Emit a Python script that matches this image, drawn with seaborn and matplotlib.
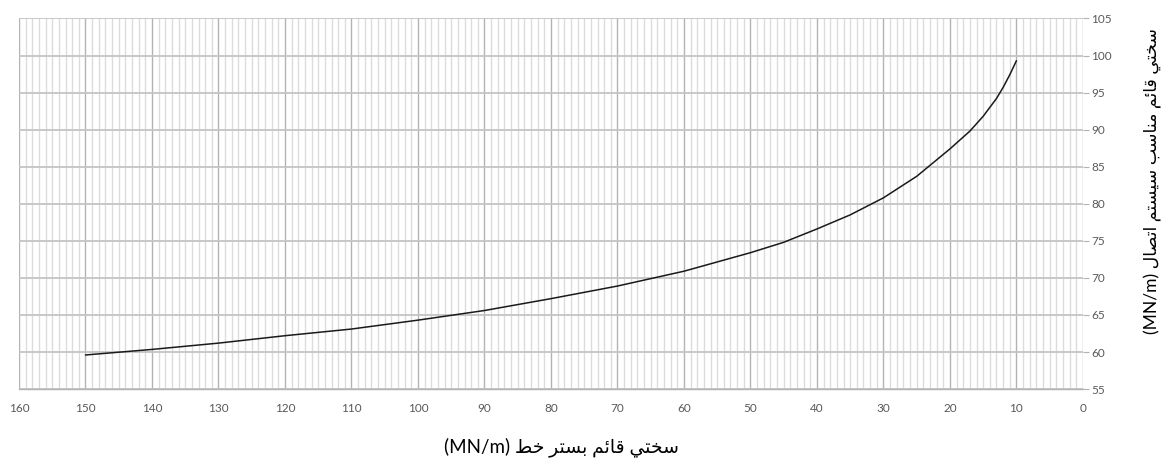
import matplotlib
matplotlib.use("Agg")
import matplotlib.pyplot as plt
import seaborn as sns
import pandas as pd
from matplotlib.ticker import MultipleLocator

# Track-bed vertical stiffness (MN/m) and the matching fastening-system stiffness (MN/m)
bed_stiffness = [150, 140, 130, 120, 110, 100, 90, 80, 70, 60, 50, 45, 40, 35,
                 30, 25, 20, 17, 15, 13, 12, 11, 10]
fastening_stiffness = [59.6, 60.35, 61.2, 62.2, 63.1, 64.3, 65.6, 67.2, 68.9, 70.9,
                       73.4, 74.8, 76.6, 78.5, 80.8, 83.7, 87.4, 89.8, 91.8, 94.2,
                       95.7, 97.4, 99.3]

x_ticks = list(range(0, 161, 10))
y_ticks = list(range(55, 106, 5))

x_title = "سختي قائم بستر خط"
y_title = "سختي قائم مناسب سيستم اتصال"
unit = "(MN/m)"

# Contextual Arabic forms: isolated, final, initial, medial (None = right-joining only)
FORMS = {
    "ا": ("\uFE8D", "\uFE8E", None, None),
    "ب": ("\uFE8F", "\uFE90", "\uFE91", "\uFE92"),
    "ت": ("\uFE95", "\uFE96", "\uFE97", "\uFE98"),
    "خ": ("\uFEA5", "\uFEA6", "\uFEA7", "\uFEA8"),
    "ر": ("\uFEAD", "\uFEAE", None, None),
    "س": ("\uFEB1", "\uFEB2", "\uFEB3", "\uFEB4"),
    "ص": ("\uFEB9", "\uFEBA", "\uFEBB", "\uFEBC"),
    "ط": ("\uFEC1", "\uFEC2", "\uFEC3", "\uFEC4"),
    "ق": ("\uFED5", "\uFED6", "\uFED7", "\uFED8"),
    "ل": ("\uFEDD", "\uFEDE", "\uFEDF", "\uFEE0"),
    "م": ("\uFEE1", "\uFEE2", "\uFEE3", "\uFEE4"),
    "ن": ("\uFEE5", "\uFEE6", "\uFEE7", "\uFEE8"),
    "ي": ("\uFEF1", "\uFEF2", "\uFEF3", "\uFEF4"),
    "ئ": ("\uFE89", "\uFE8A", "\uFE8B", "\uFE8C"),
}


def shape_rtl(text):
    """Join Arabic letters and return them in left-to-right drawing order."""
    out = []
    for i, ch in enumerate(text):
        if ch not in FORMS:
            out.append(ch)
            continue
        prev = text[i - 1] if i > 0 else None
        nxt = text[i + 1] if i + 1 < len(text) else None
        joins_prev = prev in FORMS and FORMS[prev][2] is not None
        joins_next = FORMS[ch][2] is not None and nxt in FORMS
        iso, fin, ini, med = FORMS[ch]
        if joins_prev and joins_next:
            out.append(med)
        elif joins_prev:
            out.append(fin)
        elif joins_next:
            out.append(ini)
        else:
            out.append(iso)
    return "".join(out)[::-1]


sns.set_style("white")
plt.rcParams["font.family"] = ["Lato", "DejaVu Sans"]

df = pd.DataFrame({"bed": bed_stiffness, "fastening": fastening_stiffness})

fig = plt.figure(figsize=(11.72, 4.61), dpi=100)
ax = fig.add_axes([0.0162, 0.156, 0.9078, 0.804])

sns.lineplot(data=df, x="bed", y="fastening", ax=ax, color="#1a1a1a",
             linewidth=1.1, sort=False, estimator=None)

ax.set_xlim(160, 0)
ax.set_ylim(55, 105)
ax.set_xticks(x_ticks)
ax.set_yticks(y_ticks)
ax.xaxis.set_minor_locator(MultipleLocator(1))

ax.grid(True, which="minor", axis="x", color="#dcdcdc", linewidth=1.0)
ax.grid(True, which="major", axis="x", color="#b3b3b3", linewidth=1.0)
ax.grid(True, which="major", axis="y", color="#c4c4c4", linewidth=1.3)
ax.set_axisbelow(True)

ax.yaxis.tick_right()
ax.yaxis.set_label_position("right")

for side in ("top", "left", "right"):
    ax.spines[side].set_visible(False)
ax.spines["bottom"].set_color("#b3b3b3")
ax.spines["bottom"].set_linewidth(1.0)

ax.tick_params(axis="x", which="major", length=4, width=0.8, color="#b3b3b3",
               labelsize=8.5, labelcolor="#595959", pad=6)
ax.tick_params(axis="x", which="minor", length=2, width=0.8, color="#d0d0d0")
ax.tick_params(axis="y", which="major", length=4, width=0.8, color="#b3b3b3",
               labelsize=8.5, labelcolor="#595959", pad=2, right=True, left=False)

label_family = ["Lato", "DejaVu Sans"]
ax.set_xlabel(unit + " " + shape_rtl(x_title), fontsize=13.5, color="#000000",
              family=label_family)
ax.xaxis.label.set_va("center")
ax.xaxis.set_label_coords((561 - 19) / 1064, (389 - 447) / 371)

ax.set_ylabel(unit + " " + shape_rtl(y_title), fontsize=12.5, color="#000000",
              family=label_family, rotation=90)
ax.yaxis.label.set_va("center")
ax.yaxis.set_label_coords((1153 - 19) / 1064, (389 - 181) / 371)

fig.savefig("out.png", dpi=100)
